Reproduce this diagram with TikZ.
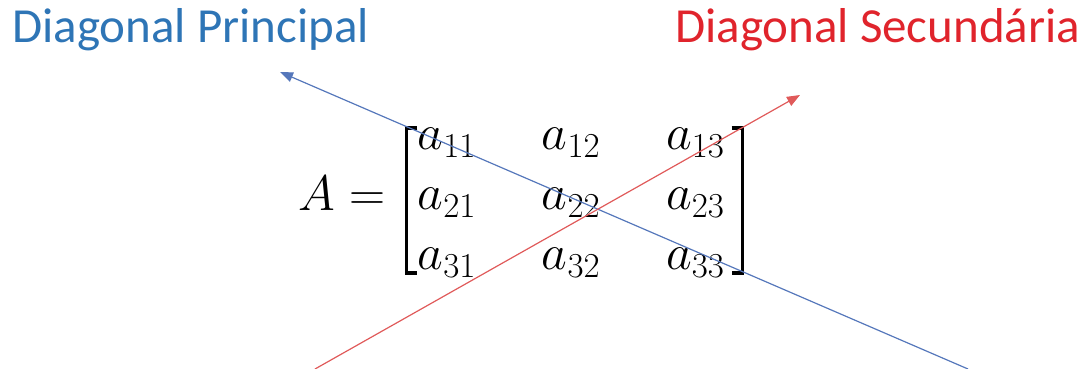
\RequirePackage{fix-cm}
\documentclass[tikz,border=0pt]{standalone}
\usepackage{amsmath}
\usepackage{fontspec}
\usepackage{xcolor}
\usepackage{tikz}
\usetikzlibrary{arrows.meta, positioning, calc}
\newfontfamily\rotulofont{Carlito}
\definecolor{azulprinc}{HTML}{2E75B6}
\definecolor{azulseta}{HTML}{5577BB}
\definecolor{vermsec}{HTML}{E0242C}
\definecolor{vermseta}{HTML}{E05A5A}

\begin{document}
\begin{tikzpicture}[x=1pt, y=-1pt,
    titulo/.style={inner sep=0pt, font=\rotulofont\fontsize{49}{54}\selectfont, text=#1},
    seta/.style={-{Triangle[length=13pt, width=10pt]}, line width=1.2pt, draw=#1},
    matriz/.style={inner sep=0pt, font=\fontsize{50}{60}\selectfont},
    colchete/.style={line width=3.4pt, line join=miter}
]
\useasboundingbox (0,0) rectangle (1091,369);
\node[titulo=azulprinc, anchor=base west] (principal) at (12,43) {Diagonal Principal};
\node[titulo=vermsec, anchor=base west] (secundaria) at (675,43) {Diagonal Secundária};
\node[matriz, anchor=base] (mat) at (571,210) {\setlength{\arraycolsep}{33pt}$\begin{matrix}
    a_{11} & a_{12} & a_{13}\\
    a_{21} & a_{22} & a_{23}\\
    a_{31} & a_{32} & a_{33}
  \end{matrix}$};
\node[matriz, base left=32pt of mat.base west] (igual) {$A=$};
\draw[colchete] ($(mat.base west)+(0,-82)$) -| ++(-11,145) -- ++(11,0);
\draw[colchete] ($(mat.base east)+(7,-82)$) -| ++(11,145) -- ++(-11,0);
\coordinate (iniprinc) at (968,369);
\coordinate (fimprinc) at (280,72);
\coordinate (inisec) at (315,369);
\coordinate (fimsec) at (800,95);
\draw[seta=azulseta] (iniprinc) -- (fimprinc);
\draw[seta=vermseta] (inisec) -- (fimsec);
\end{tikzpicture}
\end{document}
